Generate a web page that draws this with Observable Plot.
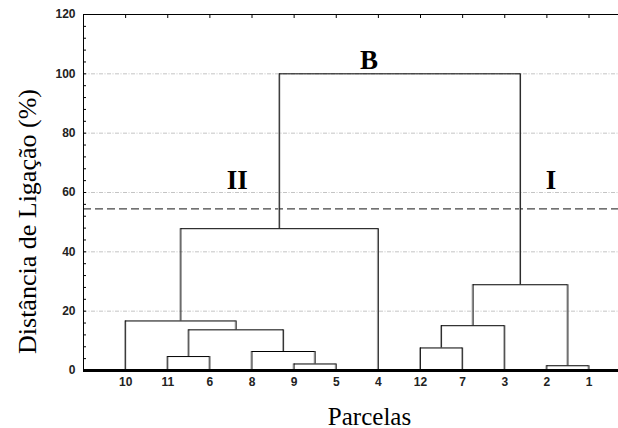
<!DOCTYPE html>
<html>
<head>
<meta charset="utf-8">
<script src="https://cdn.jsdelivr.net/npm/d3@7"></script>
<script src="https://cdn.jsdelivr.net/npm/@observablehq/plot@0.6"></script>
<style>
  html, body { margin: 0; padding: 0; background: #fff; }
  #chart svg { display: block; }
</style>
</head>
<body>
<div id="chart"></div>
<script>
// Leaf order (Parcelas) along the x axis
const leaves = ["10", "11", "6", "8", "9", "5", "4", "12", "7", "3", "2", "1"];
// Merges: cluster Ck joins mergeLeft[k] and mergeRight[k] at linkage distance mergeHeight[k]
const mergeLeft   = ["9", "8",  "11", "C2", "10", "C4", "12", "C6", "2", "C7", "C5"];
const mergeRight  = ["5", "C0", "6",  "C1", "C3", "4",  "7",  "3",  "1", "C8", "C9"];
const mergeHeight = [2.2, 6.4,  4.7,  13.7, 16.7, 47.8, 7.6,  15.1, 1.6, 28.9, 100];
// Cut level
const cutHeight = [54.5];
// Y ticks
const yTicks = [0, 20, 40, 60, 80, 100, 120];
const yMinor = d3.range(0, 121, 4);
// Cluster labels
const groupLabels = ["B", "II", "I"];

// Build node positions from the data
const pos = new Map(leaves.map((d, i) => [d, {x: i, y: 0}]));
const hSegs = [], vSegs = [];
mergeHeight.forEach((h, k) => {
  const a = pos.get(mergeLeft[k]), b = pos.get(mergeRight[k]);
  hSegs.push({x1: a.x, x2: b.x, y: h});
  vSegs.push({x: a.x, y1: a.y, y2: h});
  vSegs.push({x: b.x, y1: b.y, y2: h});
  pos.set("C" + k, {x: (a.x + b.x) / 2, y: h});
});
const labelRows = [
  {t: groupLabels[0], x: 5.78, y: 101.5},
  {t: groupLabels[1], x: 2.65, y: 61.3},
  {t: groupLabels[2], x: 10.1, y: 61.3}
];

const sans = "'Liberation Sans', Arial, sans-serif";
const serif = "'Liberation Serif', 'Times New Roman', serif";

const chart = Plot.plot({
  width: 618,
  height: 428,
  marginLeft: 83,
  marginRight: 0,
  marginTop: 14,
  marginBottom: 58,
  style: {fontFamily: sans, background: "#fff"},
  x: {domain: [-1, 11.7]},
  y: {domain: [0, 120]},
  marks: [
    Plot.ruleY([20, 40, 60, 80, 100], {stroke: "#c4c4c4", strokeDasharray: "4,1.5,1,1.5"}),
    Plot.ruleY(cutHeight, {stroke: "#444", strokeDasharray: "8,4", strokeWidth: 1.2}),
    // vertical stems (gray shadow + black line)
    Plot.ruleX(vSegs, {x: "x", y1: "y1", y2: "y2", stroke: "#a0a0a0", dx: -1}),
    Plot.ruleX(vSegs, {x: "x", y1: "y1", y2: "y2", stroke: "#222"}),
    Plot.ruleY(hSegs, {x1: "x1", x2: "x2", y: "y", stroke: "#000"}),
    // frame
    Plot.ruleX([-1], {y1: 0, y2: 120, stroke: "#000"}),
    Plot.ruleY([120], {stroke: "#000"}),
    Plot.ruleY([0], {stroke: "#000", strokeWidth: 3}),
    // y axis
    Plot.axisY({ticks: yTicks, tickSize: 0, tickPadding: 8, fontSize: 12, fontWeight: "bold", fill: "#222", label: null}),
    Plot.axisY({ticks: yMinor, tickSize: 3, dx: 3, tickFormat: () => "", label: null}),
    // x axis
    Plot.axisX({ticks: d3.range(leaves.length), tickFormat: i => leaves[i], tickSize: 0, tickPadding: 7, fontSize: 12, fontWeight: "bold", fill: "#222", label: null}),
    Plot.axisX({anchor: "top", ticks: d3.range(leaves.length), tickSize: 3, dy: 3, tickFormat: () => "", label: null}),
    // group labels
    Plot.text(labelRows, {x: "x", y: "y", text: "t", fontFamily: serif, fontWeight: "bold", fontSize: 27, lineAnchor: "bottom"}),
    // axis titles
    Plot.text(["Distância de Ligação (%)"], {frameAnchor: "left", textAnchor: "middle", rotate: -90, dx: -56, dy: 29, fontFamily: serif, fontSize: 26, fill: "#000"}),
    Plot.text(["Parcelas"], {frameAnchor: "bottom", dx: 18.5, dy: 54, lineAnchor: "bottom", fontFamily: serif, fontSize: 25, fill: "#000"})
  ]
});
document.getElementById("chart").appendChild(chart);
</script>
</body>
</html>
